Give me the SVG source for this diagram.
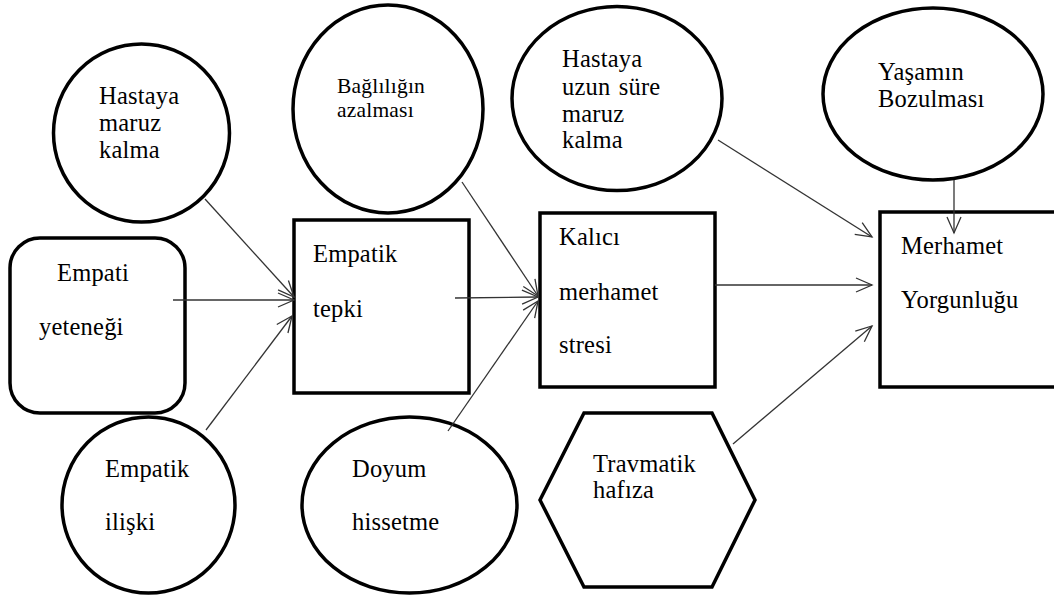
<svg xmlns="http://www.w3.org/2000/svg" width="1054" height="597" viewBox="0 0 1054 597">
<style>
.s{fill:#fff;stroke:#000;stroke-width:3.5}
.t{font-family:'Liberation Serif','Times New Roman',serif;font-size:24.5px;letter-spacing:0.2px;fill:#000}
.sm{font-size:21.5px}
.c line{stroke:#333;stroke-width:1.3;fill:none}
</style>
<defs>
<marker id="a" markerUnits="userSpaceOnUse" markerWidth="20" markerHeight="20" viewBox="-18 -10 20 20" refX="0" refY="0" orient="auto">
<path d="M-16,-7 L0,0 L-16,7" fill="none" stroke="#333" stroke-width="1.3"/>
</marker>
</defs>
<rect width="1054" height="597" fill="#fff"/>
<g id="n-hastaya-maruz">
<ellipse class="s" cx="141.5" cy="133" rx="88" ry="89"/>
<text class="t" x="99" y="104">Hastaya</text>
<text class="t" x="99" y="131">maruz</text>
<text class="t" x="99" y="158">kalma</text>
</g>
<g id="n-baglilik">
<ellipse class="s" cx="388" cy="109" rx="95" ry="104"/>
<text class="t sm" x="337" y="93">Bağlılığın</text>
<text class="t sm" x="337" y="117">azalması</text>
</g>
<g id="n-hastaya-uzun">
<ellipse class="s" cx="617" cy="98.5" rx="105" ry="92"/>
<text class="t" x="562" y="67">Hastaya</text>
<text class="t" x="562" y="95" word-spacing="2">uzun süre</text>
<text class="t" x="562" y="122">maruz</text>
<text class="t" x="562" y="148">kalma</text>
</g>
<g id="n-yasamin">
<ellipse class="s" cx="933" cy="94" rx="110" ry="86"/>
<text class="t" x="878" y="80">Yaşamın</text>
<text class="t" x="878" y="107">Bozulması</text>
</g>
<g id="n-empati-yetenegi">
<rect class="s" x="10" y="238" width="175" height="175" rx="30" ry="30"/>
<text class="t" x="57" y="281">Empati</text>
<text class="t" x="39" y="335">yeteneği</text>
</g>
<g id="n-empatik-tepki">
<rect class="s" x="294" y="220" width="175" height="173"/>
<text class="t" x="313" y="262">Empatik</text>
<text class="t" x="313" y="317">tepki</text>
</g>
<g id="n-kalici">
<rect class="s" x="540" y="213" width="175" height="174"/>
<text class="t" x="559" y="245">Kalıcı</text>
<text class="t" x="559" y="300">merhamet</text>
<text class="t" x="559" y="353">stresi</text>
</g>
<g id="n-merhamet">
<rect class="s" x="880" y="212" width="185" height="175"/>
<text class="t" x="901" y="254">Merhamet</text>
<text class="t" x="901" y="308">Yorgunluğu</text>
</g>
<g id="n-empatik-iliski">
<ellipse class="s" cx="148.5" cy="505" rx="86.5" ry="88"/>
<text class="t" x="105" y="477">Empatik</text>
<text class="t" x="105" y="530">ilişki</text>
</g>
<g id="n-doyum">
<ellipse class="s" cx="409.5" cy="505" rx="107.5" ry="88"/>
<text class="t" x="352" y="477">Doyum</text>
<text class="t" x="352" y="530">hissetme</text>
</g>
<g id="n-travmatik">
<polygon class="s" points="584,413 712,413 755,500 712,587 584,587 540,500"/>
<text class="t" x="593" y="472">Travmatik</text>
<text class="t" x="593" y="498">hafıza</text>
</g>
<g class="c" id="connectors">
<line x1="205" y1="199" x2="294" y2="297" marker-end="url(#a)"/>
<line x1="173" y1="300" x2="294" y2="300" marker-end="url(#a)"/>
<line x1="206" y1="430" x2="292" y2="316" marker-end="url(#a)"/>
<line x1="462" y1="182" x2="538" y2="296" marker-end="url(#a)"/>
<line x1="455" y1="298" x2="538" y2="297" marker-end="url(#a)"/>
<line x1="448" y1="431" x2="538" y2="301" marker-end="url(#a)"/>
<line x1="718" y1="140" x2="872" y2="237" marker-end="url(#a)"/>
<line x1="715" y1="285" x2="872" y2="285" marker-end="url(#a)"/>
<line x1="733" y1="444" x2="872" y2="326" marker-end="url(#a)"/>
<line x1="954" y1="180" x2="954" y2="233" marker-end="url(#a)"/>
</g>
</svg>
